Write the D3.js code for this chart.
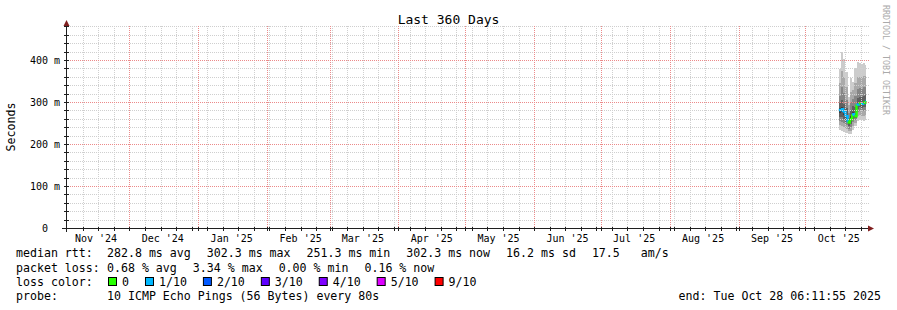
<!DOCTYPE html>
<html>
<head>
<meta charset="utf-8">
<script src="https://cdn.jsdelivr.net/npm/d3@7"></script>
<style>
  body { margin: 0; background: #fff; }
  svg text { font-family: 'DejaVu Sans Mono', monospace; fill: #000; }
</style>
</head>
<body>
<div id="chart"></div>
<script>
// ---------------- Data ----------------
// one consolidated step per day (UTC), smoke = 10 sorted pings per step (ms)
const days = ['2025-10-16', '2025-10-17', '2025-10-18', '2025-10-19', '2025-10-20', '2025-10-21',
  '2025-10-22', '2025-10-23', '2025-10-24', '2025-10-25', '2025-10-26', '2025-10-27', '2025-10-28']
const medianRtt = [281, 283, 276, 266, 251.3, 259, 271, 266, 294, 297, 296, 299, 302.3]
const lossCount = [1, 1, 1, 1, 0, 0, 1, 0, 1, 0, 1, 0, 1]
const pings = [
  [233, 245, 255, 265, 275, 285, 298, 315, 345, 378],
  [230, 242, 253, 264, 276, 288, 305, 335, 375, 420],
  [228, 240, 250, 260, 270, 280, 296, 322, 360, 402],
  [227, 236, 245, 253, 260, 270, 285, 305, 335, 372],
  [224, 230, 236, 242, 247, 253, 262, 275, 292, 312],
  [225, 232, 240, 248, 256, 266, 280, 300, 325, 356],
  [233, 242, 252, 260, 268, 276, 290, 308, 328, 348],
  [243, 250, 256, 261, 266, 272, 288, 315, 345, 382],
  [255, 266, 276, 284, 292, 298, 310, 330, 360, 396],
  [258, 268, 279, 288, 295, 301, 312, 333, 360, 393],
  [257, 267, 278, 286, 293, 299, 311, 332, 360, 390],
  [255, 266, 278, 287, 297, 303, 315, 335, 362, 393],
  [258, 268, 280, 289, 299, 305, 316, 336, 362, 388]
]

const monthLabels = ["Nov '24", "Dec '24", "Jan '25", "Feb '25", "Mar '25", "Apr '25",
  "May '25", "Jun '25", "Jul '25", "Aug '25", "Sep '25", "Oct '25"]
const yTicks = [0, 100, 200, 300, 400]

const rttStats = ['282.8 ms avg', '302.3 ms max', '251.3 ms min', '302.3 ms now', '16.2 ms sd', '17.5   am/s']
const lossStats = ['0.68 % avg', '3.34 % max', '0.00 % min', '0.16 % now']
const lossLabels = ['0', '1/10', '2/10', '3/10', '4/10', '5/10', '9/10']
const lossColors = ['#26ff00', '#00b8ff', '#0059ff', '#5e00ff', '#7e00ff', '#dd00ff', '#ff0000']
const probeText = '10 ICMP Echo Pings (56 Bytes) every 80s'
const endText = 'end: Tue Oct 28 06:11:55 2025'
const titleText = 'Last 360 Days'

// ---------------- Set up ----------------
const W = 897
const H = 310
const endTime = new Date(Date.UTC(2025, 9, 28, 6, 11, 55))
const startTime = new Date(endTime.getTime() - 360 * 86400000)
const smokeShades = ['#cccccc', '#a9a9a9', '#868686', '#606060', '#3c3c3c']

const x = d3.scaleUtc().domain([startTime, endTime]).range([65.5, 866])
const y = d3.scaleLinear().domain([0, 481]).range([228, 26])
const plotLeft = 66.5
const gridLeft = 66
const plotRight = 869
const crisp = v => Math.round(v) + 0.5

const svg = d3.select('#chart').append('svg')
  .attr('width', W)
  .attr('height', H)
  .style('display', 'block')

svg.append('rect').attr('width', W).attr('height', H).attr('fill', '#fff')

// ---------------- Smoke ----------------
const rows = days.map((d, i) => ({
  t: new Date(d + 'T00:00:00Z'),
  p: pings[i],
  med: medianRtt[i],
  loss: lossCount[i]
}))
// closing point so the last step reaches the end of the graph
const rowsEnd = rows.concat([{ t: endTime, p: pings[pings.length - 1], med: medianRtt[medianRtt.length - 1] }])

const smoke = svg.append('g').attr('class', 'smoke')
smokeShades.forEach((shade, k) => {
  const area = d3.area()
    .curve(d3.curveStepAfter)
    .x(d => x(d.t))
    .y0(d => y(d.p[k]))
    .y1(d => y(d.p[9 - k]))
  smoke.append('path')
    .datum(rowsEnd)
    .attr('d', area)
    .attr('fill', shade)
    .attr('shape-rendering', 'crispEdges')
})

// ---------------- Median (coloured by loss) ----------------
const lossIndex = n => (n >= 9 ? 6 : Math.min(n, 5))
const med = svg.append('g').attr('class', 'median')
rows.forEach((r, i) => {
  const x0 = x(r.t)
  const x1 = x(rowsEnd[i + 1].t)
  const col = lossColors[lossIndex(r.loss)]
  let path = 'M' + x0 + ',' + y(r.med) + 'H' + x1
  if (i < rows.length - 1) path += 'V' + y(rows[i + 1].med)
  med.append('path')
    .attr('d', path)
    .attr('fill', 'none')
    .attr('stroke', col)
    .attr('stroke-width', 2.4)
})

// ---------------- Grid (drawn over data, like rrdtool) ----------------
const grid = svg.append('g').attr('class', 'grid')
  .attr('fill', 'none')
  .attr('stroke-dasharray', '1,1')

const months = d3.utcMonth.range(d3.utcMonth.ceil(startTime), endTime)
const labelMonths = d3.utcMonth.range(d3.utcMonth.floor(startTime), endTime)
const weeks = d3.utcSunday.range(startTime, endTime)
  .filter(w => x(w) > plotLeft + 1 && !months.some(m => Math.abs(x(m) - x(w)) < 2))

const minorY = d3.range(20, 481, 20).filter(v => v % 100 !== 0)

grid.selectAll('line.hminor').data(minorY).enter().append('line')
  .attr('class', 'hminor')
  .attr('x1', gridLeft).attr('x2', plotRight)
  .attr('y1', d => crisp(y(d))).attr('y2', d => crisp(y(d)))
  .attr('stroke', '#cfcfcf')

grid.selectAll('line.vminor').data(weeks).enter().append('line')
  .attr('class', 'vminor')
  .attr('x1', d => crisp(x(d))).attr('x2', d => crisp(x(d)))
  .attr('y1', 26).attr('y2', 228)
  .attr('stroke', '#cfcfcf')

grid.selectAll('line.hmajor').data(yTicks.filter(v => v > 0)).enter().append('line')
  .attr('class', 'hmajor')
  .attr('x1', gridLeft).attr('x2', plotRight)
  .attr('y1', d => crisp(y(d))).attr('y2', d => crisp(y(d)))
  .attr('stroke', '#ec8a8a')

grid.selectAll('line.vmajor').data(months).enter().append('line')
  .attr('class', 'vmajor')
  .attr('x1', d => crisp(x(d))).attr('x2', d => crisp(x(d)))
  .attr('y1', 26).attr('y2', 228)
  .attr('stroke', '#ec8a8a')

// ---------------- Axes ----------------
const axisCol = '#1f1f1f'
const arrowCol = '#801f1f'
const ax = svg.append('g').attr('class', 'axes')

ax.append('line').attr('x1', 62).attr('x2', 870)
  .attr('y1', 228.5).attr('y2', 228.5).attr('stroke', axisCol)
ax.append('line').attr('x1', plotLeft).attr('x2', plotLeft)
  .attr('y1', 24).attr('y2', 232).attr('stroke', axisCol)

// small ticks on the axes
ax.selectAll('line.tx').data(weeks.concat(months)).enter().append('line')
  .attr('class', 'tx')
  .attr('x1', d => crisp(x(d))).attr('x2', d => crisp(x(d)))
  .attr('y1', 227).attr('y2', 231).attr('stroke', axisCol)
ax.selectAll('line.ty').data(minorY.concat(yTicks)).enter().append('line')
  .attr('class', 'ty')
  .attr('x1', 64).attr('x2', 69)
  .attr('y1', d => crisp(y(d))).attr('y2', d => crisp(y(d)))
  .attr('stroke', axisCol)

ax.append('path').attr('d', 'M868,225.5L874,228.5L868,231.5Z').attr('fill', arrowCol)
ax.append('path').attr('d', 'M63.5,26L66.5,20L69.5,26Z').attr('fill', arrowCol)

// month labels, centred on the middle of each month
svg.append('g').selectAll('text').data(labelMonths).enter().append('text')
  .attr('x', d => x(d3.utcDay.offset(d, 15)))
  .attr('y', 242)
  .attr('text-anchor', 'middle')
  .attr('font-size', '10px')
  .text((d, i) => monthLabels[i])

// y labels
const yLabel = v => (v === 0 ? '  0  ' : v + ' m')
svg.append('g').selectAll('text').data(yTicks).enter().append('text')
  .attr('x', 30)
  .attr('y', d => y(d) + 3.5)
  .attr('font-size', '10px')
  .attr('xml:space', 'preserve')
  .style('white-space', 'pre')
  .text(yLabel)

svg.append('text')
  .attr('transform', 'translate(15,127) rotate(-90)')
  .attr('text-anchor', 'middle')
  .attr('font-size', '11.6px')
  .text('Seconds')

// title and watermark
svg.append('text')
  .attr('x', W / 2)
  .attr('y', 24)
  .attr('text-anchor', 'middle')
  .attr('font-size', '13px')
  .text(titleText)

svg.append('text')
  .attr('transform', 'translate(883,5) rotate(90)')
  .attr('font-size', '8.3px')
  .style('fill', '#aaaaaa')
  .text('RRDTOOL / TOBI OETIKER')

// ---------------- Legend ----------------
const legend = svg.append('g').attr('class', 'legend').attr('font-size', '11.6px')
const labelX = 16
const valueX = 107
const gap = 16
const rowY = [257, 272, 286, 300]

function flowRow (items, yy) {
  let cx = valueX
  items.forEach(s => {
    const t = legend.append('text')
      .attr('x', cx).attr('y', yy)
      .attr('xml:space', 'preserve')
      .style('white-space', 'pre')
      .text(s)
    cx += t.node().getComputedTextLength() + gap
  })
}

legend.append('text').attr('x', labelX).attr('y', rowY[0]).text('median rtt:')
flowRow(rttStats, rowY[0])

legend.append('text').attr('x', labelX).attr('y', rowY[1]).text('packet loss:')
flowRow(lossStats, rowY[1])

legend.append('text').attr('x', labelX).attr('y', rowY[2]).text('loss color:')
let sx = valueX + 1
lossLabels.forEach((lab, i) => {
  legend.append('rect')
    .attr('x', sx + 0.5).attr('y', rowY[2] - 8.5)
    .attr('width', 8).attr('height', 8)
    .attr('fill', lossColors[i])
    .attr('stroke', '#000')
  const t = legend.append('text').attr('x', sx + 14).attr('y', rowY[2]).text(lab)
  sx += 14 + t.node().getComputedTextLength() + gap
})

legend.append('text').attr('x', labelX).attr('y', rowY[3]).text('probe:')
legend.append('text').attr('x', valueX).attr('y', rowY[3]).text(probeText)
legend.append('text').attr('x', 881).attr('y', rowY[3])
  .attr('text-anchor', 'end').text(endText)
</script>
</body>
</html>
